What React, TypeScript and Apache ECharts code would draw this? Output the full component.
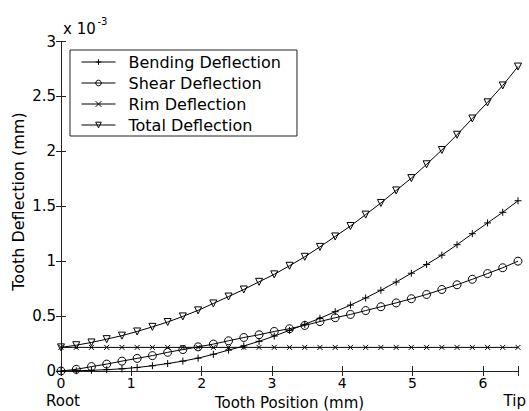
import React, { useEffect, useRef } from 'react';
import * as echarts from 'echarts';

const positions = [0, 0.217, 0.433, 0.65, 0.867, 1.083, 1.3, 1.517, 1.733, 1.95, 2.167, 2.383, 2.6, 2.817, 3.033, 3.25, 3.467, 3.683, 3.9, 4.117, 4.333, 4.55, 4.767, 4.983, 5.2, 5.417, 5.633, 5.85, 6.067, 6.283, 6.5];

const bending = [0, 0.002, 0.006, 0.012, 0.02, 0.032, 0.048, 0.068, 0.09, 0.117, 0.152, 0.19, 0.228, 0.27, 0.318, 0.37, 0.425, 0.48, 0.54, 0.6, 0.665, 0.735, 0.81, 0.89, 0.97, 1.055, 1.15, 1.25, 1.348, 1.445, 1.55];
const shear = [0, 0.015, 0.04, 0.063, 0.09, 0.115, 0.14, 0.17, 0.195, 0.22, 0.245, 0.275, 0.305, 0.33, 0.36, 0.385, 0.415, 0.45, 0.485, 0.515, 0.55, 0.585, 0.62, 0.658, 0.697, 0.742, 0.785, 0.835, 0.887, 0.94, 1.0];
const rim = [0.215, 0.215, 0.215, 0.215, 0.215, 0.215, 0.215, 0.215, 0.215, 0.215, 0.215, 0.215, 0.215, 0.215, 0.215, 0.215, 0.215, 0.215, 0.215, 0.215, 0.215, 0.215, 0.215, 0.215, 0.215, 0.215, 0.215, 0.215, 0.215, 0.215, 0.215];
const total = [0.215, 0.235, 0.26, 0.29, 0.322, 0.36, 0.402, 0.446, 0.497, 0.552, 0.615, 0.678, 0.742, 0.812, 0.88, 0.958, 1.04, 1.13, 1.225, 1.32, 1.424, 1.53, 1.644, 1.756, 1.882, 2.012, 2.151, 2.299, 2.446, 2.6, 2.772];

const seriesNames = ['Bending Deflection', 'Shear Deflection', 'Rim Deflection', 'Total Deflection'];
const xTicks = [0, 1, 2, 3, 4, 5, 6];
const yTicks = [0, 0.5, 1, 1.5, 2, 2.5, 3];

const FONT = 'DejaVu Sans';
const AXC = '#222';

export default function App() {
  const ref = useRef<HTMLDivElement>(null);
  useEffect(() => {
    if (!ref.current) return;
    const chart = echarts.init(ref.current, null, { renderer: 'svg' });
    const zip = (vals: number[]) => positions.map((x, i) => [x, vals[i]]);
    const common = {
      type: 'line',
      silent: true,
      showSymbol: true,
      lineStyle: { color: '#000', width: 1 },
      itemStyle: { color: 'rgba(0,0,0,0)', borderColor: '#000', borderWidth: 1 },
      emphasis: { disabled: true },
    };
    const tickCommon = { inside: true, length: 5, lineStyle: { color: AXC, width: 1 } };
    const lineCommon = { show: true, lineStyle: { color: AXC, width: 1 } };
    chart.setOption({
      animation: false,
      backgroundColor: '#fff',
      grid: { left: 61, right: 11, top: 41.5, bottom: 40, outerBoundsMode: 'none' },
      xAxis: [
        {
          type: 'value', min: 0, max: 6.5, interval: 1, position: 'bottom',
          axisLine: lineCommon, axisTick: tickCommon, splitLine: { show: false },
          axisLabel: {
            margin: 4, fontFamily: FONT, fontSize: 14, lineHeight: 15, color: '#000',
            formatter: (v: number) => (xTicks.includes(v) ? String(v) : ''),
          },
          name: 'Tooth Position (mm)', nameLocation: 'middle', nameGap: 21.5,
          nameTextStyle: { fontFamily: FONT, fontSize: 15, lineHeight: 17, color: '#000' },
        },
        {
          type: 'value', min: 0, max: 6.5, interval: 1, position: 'top',
          axisLine: lineCommon, axisTick: tickCommon, splitLine: { show: false },
          axisLabel: { show: false },
        },
      ],
      yAxis: [
        {
          type: 'value', min: 0, max: 3, interval: 0.5, position: 'left',
          axisLine: lineCommon, axisTick: tickCommon, splitLine: { show: false },
          axisLabel: {
            margin: 5, fontFamily: FONT, fontSize: 15, color: '#000',
            formatter: (v: number) => (yTicks.includes(v) ? String(v) : ''),
          },
        },
        {
          type: 'value', min: 0, max: 3, interval: 0.5, position: 'right',
          axisLine: lineCommon, axisTick: tickCommon, splitLine: { show: false },
          axisLabel: { show: false },
        },
      ],
      legend: {
        data: seriesNames,
        orient: 'vertical',
        left: 70, top: 50,
        padding: [4, 16, 3, 11],
        itemWidth: 34, itemHeight: 7, itemGap: 5,
        borderColor: AXC, borderWidth: 1, backgroundColor: '#fff',
        selectedMode: false,
        lineStyle: { color: '#000', width: 1 },
        itemStyle: { color: 'rgba(0,0,0,0)', borderColor: '#000', borderWidth: 1 },
        textStyle: { fontFamily: FONT, fontSize: 16, color: '#000', lineHeight: 16, padding: [0, 0, 0, 8] },
      },
      graphic: [
        { type: 'text', x: 18, y: 201.5, rotation: Math.PI / 2, style: { text: 'Tooth Deflection (mm)', fontFamily: FONT, fontSize: 16, fill: '#000', align: 'center', verticalAlign: 'middle' } },
        { type: 'text', x: 46, y: 401, style: { text: 'Root', fontFamily: FONT, fontSize: 15, lineHeight: 17, fill: '#000', align: 'left', verticalAlign: 'middle' } },
        { type: 'text', x: 526, y: 401, style: { text: 'Tip', fontFamily: FONT, fontSize: 15, lineHeight: 17, fill: '#000', align: 'right', verticalAlign: 'middle' } },
        { type: 'text', x: 63, y: 28.8, style: { text: 'x 10', fontFamily: FONT, fontSize: 15, fill: '#000', align: 'left', verticalAlign: 'middle' } },
        { type: 'text', x: 97.5, y: 21, style: { text: '-3', fontFamily: FONT, fontSize: 10, fill: '#000', align: 'left', verticalAlign: 'middle' } },
      ],
      series: [
        { ...common, name: seriesNames[0], data: zip(bending), symbol: 'path://M5,0L5,10M0,5L10,5', symbolSize: 7 },
        { ...common, name: seriesNames[1], data: zip(shear), symbol: 'circle', symbolSize: 8 },
        { ...common, name: seriesNames[2], data: zip(rim), symbol: 'path://M0,0L10,10M10,0L0,10', symbolSize: 5 },
        { ...common, name: seriesNames[3], data: zip(total), symbol: 'triangle', symbolRotate: 180, symbolSize: 7 },
      ],
    });
    return () => chart.dispose();
  }, []);
  return <div ref={ref} style={{ position: 'absolute', left: 0, top: 0, width: 529, height: 411 }} />;
}
